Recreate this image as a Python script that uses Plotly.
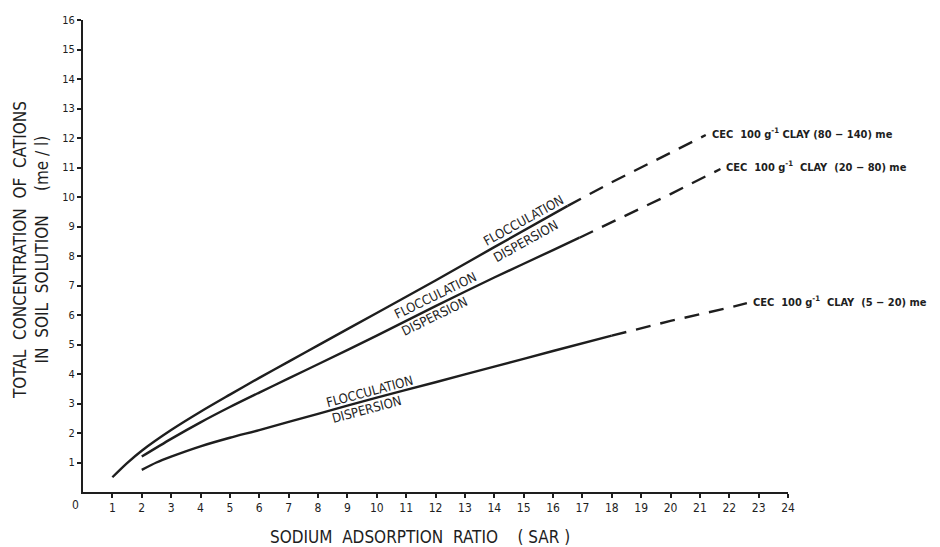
import plotly.graph_objects as go

# SAR values and total cation concentrations (me/l)
hi_solid_x = [1, 1.5, 2, 3, 4, 5, 6, 7, 8, 10, 12, 14, 16.5]
hi_solid_y = [0.5, 0.98, 1.4, 2.1, 2.72, 3.3, 3.87, 4.42, 4.97, 6.07, 7.17, 8.3, 9.7]
hi_dash_x = [16.5, 18, 20, 21.2]
hi_dash_y = [9.7, 10.5, 11.5, 12.1]

mid_solid_x = [2, 3, 4, 5, 6, 7, 8, 10, 12, 14, 16, 16.9]
mid_solid_y = [1.2, 1.8, 2.36, 2.88, 3.37, 3.85, 4.33, 5.3, 6.3, 7.27, 8.2, 8.62]
mid_dash_x = [16.9, 18, 20, 21.7]
mid_dash_y = [8.62, 9.15, 10.1, 10.95]

lo_solid_x = [2, 2.5, 3, 4, 5, 6, 8, 10, 12, 14, 16, 18]
lo_solid_y = [0.75, 1.0, 1.2, 1.55, 1.84, 2.1, 2.65, 3.2, 3.72, 4.25, 4.78, 5.3]
lo_dash_x = [18, 20, 22, 22.6]
lo_dash_y = [5.3, 5.8, 6.25, 6.4]

curve_labels = [
    "CEC  100 g<sup>-1</sup> CLAY (80 − 140) me",
    "CEC  100 g<sup>-1</sup>  CLAY  (20 − 80) me",
    "CEC  100 g<sup>-1</sup>  CLAY  (5 − 20) me",
]

x_ticks = list(range(1, 25))
y_ticks = list(range(1, 17))

FONT = "DejaVu Sans Condensed, Liberation Sans Narrow, Arial Narrow, sans-serif"
INK = "#1e1e1e"

# the page body has an 8px margin; size the figure so it fits the window
OFF = 8
W, H = 940 - OFF, 547 - OFF
L, R, T, B = 83 - OFF, 152, 20 - OFF, 55
PW, PH = W - L - R, H - T - B


def px(xp):
    return (xp - OFF - L) / PW


def py(yp):
    return (H - B - (yp - OFF)) / PH


fig = go.Figure()
for xs, ys in [(hi_solid_x, hi_solid_y), (mid_solid_x, mid_solid_y), (lo_solid_x, lo_solid_y)]:
    fig.add_trace(go.Scatter(x=xs, y=ys, mode="lines", line=dict(color=INK, width=2.4, shape="spline", smoothing=0.8),
                             showlegend=False, hoverinfo="skip"))
for xs, ys in [(hi_dash_x, hi_dash_y), (mid_dash_x, mid_dash_y), (lo_dash_x, lo_dash_y)]:
    fig.add_trace(go.Scatter(x=xs, y=ys, mode="lines",
                             line=dict(color=INK, width=2.4, dash="15px,10px"),
                             showlegend=False, hoverinfo="skip"))

# end labels
for lab, xs, ys in [(curve_labels[0], hi_dash_x, hi_dash_y),
                    (curve_labels[1], mid_dash_x, mid_dash_y),
                    (curve_labels[2], lo_dash_x, lo_dash_y)]:
    fig.add_annotation(x=xs[-1], y=ys[-1], text="<b>" + lab + "</b>", showarrow=False, xanchor="left",
                       yanchor="middle", xshift=4, yshift=2, font=dict(family=FONT, size=11, color=INK))

# flocculation / dispersion labels
for (fx, fy, dx, dy, ang) in [(15.0, 9.2, 15.05, 8.5, -29), (12.0, 6.65, 11.95, 5.95, -26),
                              (9.75, 3.42, 9.65, 2.8, -15)]:
    fig.add_annotation(x=fx, y=fy, text="FLOCCULATION", showarrow=False, textangle=ang,
                       font=dict(family=FONT, size=13, color=INK))
    fig.add_annotation(x=dx, y=dy, text="DISPERSION", showarrow=False, textangle=ang,
                       font=dict(family=FONT, size=13, color=INK))

fig.add_annotation(x=px(75), y=py(505), xref="paper", yref="paper", text="0", showarrow=False,
                   xanchor="center", yanchor="middle", font=dict(family=FONT, size=12, color=INK))
fig.add_annotation(x=px(420), y=py(537), xref="paper", yref="paper",
                   text="SODIUM  ADSORPTION  RATIO    ( SAR )", showarrow=False,
                   xanchor="center", yanchor="middle", font=dict(family=FONT, size=17, color=INK))
fig.add_annotation(x=px(31), y=py(250), xref="paper", yref="paper", textangle=-90,
                   text="TOTAL  CONCENTRATION  OF  CATIONS<br>IN  SOIL  SOLUTION     (me / l)",
                   showarrow=False, xanchor="center", yanchor="middle",
                   font=dict(family=FONT, size=17, color=INK))

fig.update_layout(
    width=W, height=H,
    margin=dict(l=L, r=R, t=T, b=B, autoexpand=False),
    paper_bgcolor="white", plot_bgcolor="white",
    font=dict(family=FONT, color=INK, size=12),
    xaxis=dict(range=[0, 24], tickvals=x_ticks, ticktext=[str(v) for v in x_ticks], automargin=False,
               showgrid=False, zeroline=False, showline=True, linecolor=INK, linewidth=2,
               ticks="outside", ticklen=4, tickcolor=INK, tickwidth=1.5, tickfont=dict(size=12)),
    yaxis=dict(range=[0, 16], tickvals=y_ticks, ticktext=[str(v) for v in y_ticks], automargin=False,
               showgrid=False, zeroline=False, showline=True, linecolor=INK, linewidth=2,
               ticks="outside", ticklen=4, tickcolor=INK, tickwidth=1.5, tickfont=dict(size=11)),
)

fig.write_html("out.html")
